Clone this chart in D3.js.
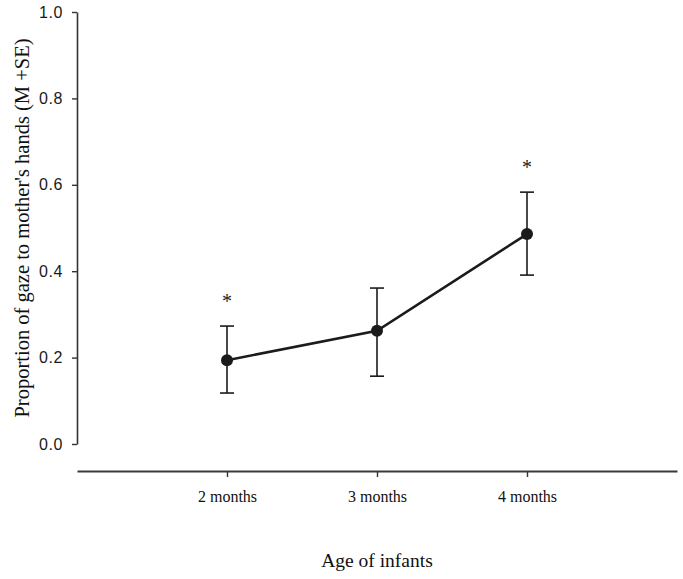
<!DOCTYPE html>
<html>
<head>
<meta charset="utf-8">
<script src="https://cdn.jsdelivr.net/npm/d3@7"></script>
<style>
  html, body { margin: 0; padding: 0; background: #fff; }
  svg { display: block; }
</style>
</head>
<body>
<svg id="chart" width="683" height="579"></svg>
<script>
const categories = ["2 months", "3 months", "4 months"];
const means = [0.194, 0.262, 0.486];
const upper = [0.273, 0.361, 0.583];
const lower = [0.118, 0.157, 0.391];
const significance = ["*", "", "*"];
const yTicks = [0.0, 0.2, 0.4, 0.6, 0.8, 1.0];
const yLabel = "Proportion of gaze to mother's hands (M +SE)";
const xLabel = "Age of infants";

const svg = d3.select("#chart");
const ink = "#1b1b1b";

const x = d3.scalePoint().domain(categories).range([77, 677]).padding(1);
const y = d3.scaleLinear().domain([0, 1]).range([444, 12]);

// Y axis
const yAxis = svg.append("g")
  .attr("transform", "translate(77,0)")
  .call(d3.axisLeft(y).tickValues(yTicks).tickFormat(d3.format(".1f")).tickSize(5).tickSizeOuter(0).tickPadding(9));
yAxis.select(".domain").attr("stroke", "#333").attr("stroke-width", 1.6);
yAxis.selectAll(".tick line").attr("stroke", "#333").attr("stroke-width", 1.4);
yAxis.selectAll(".tick text")
  .attr("font-family", "'Liberation Sans', Arial, sans-serif")
  .attr("font-size", 16).attr("fill", "#1a1a1a").attr("letter-spacing", "0.6px");

// X axis
const xAxis = svg.append("g")
  .attr("transform", "translate(0,471)")
  .call(d3.axisBottom(x).tickSize(6).tickSizeOuter(0).tickPadding(14));
xAxis.select(".domain").attr("stroke", "#3a3a3a").attr("stroke-width", 2.2);
xAxis.selectAll(".tick line").attr("stroke", "#333").attr("stroke-width", 1.4);
xAxis.selectAll(".tick text")
  .attr("font-family", "'Liberation Serif', 'Times New Roman', serif")
  .attr("font-size", 16).attr("fill", "#111");

// Error bars
const capHalf = 7;
const eb = svg.append("g").attr("stroke", ink).attr("stroke-width", 1.6).attr("fill", "none");
categories.forEach((c, i) => {
  const cx = x(c);
  eb.append("line").attr("x1", cx).attr("x2", cx).attr("y1", y(upper[i])).attr("y2", y(lower[i]));
  eb.append("line").attr("x1", cx - capHalf).attr("x2", cx + capHalf).attr("y1", y(upper[i])).attr("y2", y(upper[i]));
  eb.append("line").attr("x1", cx - capHalf).attr("x2", cx + capHalf).attr("y1", y(lower[i])).attr("y2", y(lower[i]));
});

// Line
const line = d3.line().x((d, i) => x(categories[i])).y(d => y(d));
svg.append("path").datum(means)
  .attr("d", line).attr("fill", "none").attr("stroke", ink).attr("stroke-width", 2.6);

// Points
svg.append("g").selectAll("circle").data(means).join("circle")
  .attr("cx", (d, i) => x(categories[i])).attr("cy", d => y(d)).attr("r", 6).attr("fill", ink);

// Significance markers
svg.append("g").selectAll("text").data(significance).join("text")
  .attr("x", (d, i) => x(categories[i]))
  .attr("y", (d, i) => y(upper[i]) - 18)
  .attr("text-anchor", "middle")
  .attr("font-family", "'Liberation Serif', 'Times New Roman', serif")
  .attr("font-size", 20).attr("fill", ink)
  .text(d => d);

// Axis titles
svg.append("text")
  .attr("transform", "translate(22,228) rotate(-90)")
  .attr("text-anchor", "middle").attr("dominant-baseline", "central")
  .attr("font-family", "'Liberation Serif', 'Times New Roman', serif")
  .attr("font-size", 20.5).attr("fill", "#111")
  .text(yLabel);

svg.append("text")
  .attr("x", 377).attr("y", 567)
  .attr("text-anchor", "middle")
  .attr("font-family", "'Liberation Serif', 'Times New Roman', serif")
  .attr("font-size", 19.5).attr("fill", "#111")
  .text(xLabel);
</script>
</body>
</html>
